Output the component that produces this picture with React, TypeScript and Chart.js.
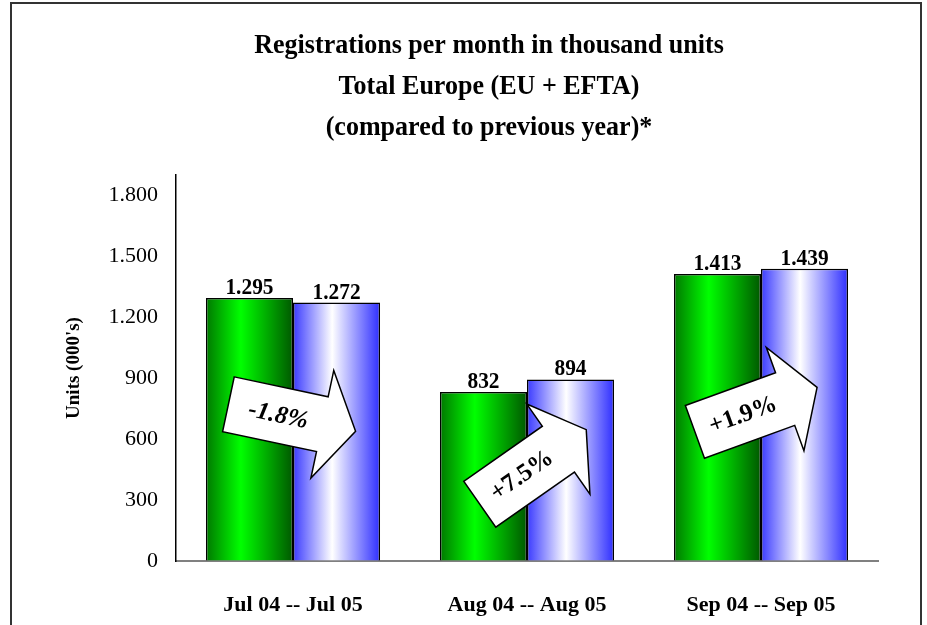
import React, { useEffect, useRef } from "react";
import { Chart, registerables } from "chart.js";

Chart.register(...registerables);

const categories = ["Jul 04 -- Jul 05", "Aug 04 -- Aug 05", "Sep 04 -- Sep 05"];
const prevYear = [1295, 832, 1413];
const currYear = [1272, 894, 1439];
const changeLabels = ["-1.8%", "+7.5%", "+1.9%"];
const yTicks = [0, 300, 600, 900, 1200, 1500, 1800];
const titleLines = [
  "Registrations per month in thousand units",
  "Total Europe (EU + EFTA)",
  "(compared to previous year)*",
];
const yTitle = "Units (000's)";

const SERIF = "'Liberation Serif', 'Times New Roman', serif";

function fmt(v: number): string {
  const s = Math.round(v).toString();
  return s.replace(/\B(?=(\d{3})+(?!\d))/g, ".");
}

const framePlugin = {
  id: "frame",
  beforeDraw(chart: any) {
    const { ctx, width, height } = chart;
    ctx.save();
    ctx.fillStyle = "#ffffff";
    ctx.fillRect(0, 0, width, height);
    ctx.strokeStyle = "#333333";
    ctx.lineWidth = 2;
    ctx.strokeRect(11, 3, 910, height + 20);
    ctx.restore();
  },
};

const titlePlugin = {
  id: "condensedTitle",
  afterDraw(chart: any, _a: any, opts: any) {
    const { ctx } = chart;
    ctx.save();
    ctx.fillStyle = "#000";
    ctx.font = `bold ${opts.size}px ${SERIF}`;
    ctx.textAlign = "center";
    ctx.textBaseline = "middle";
    const sx = opts.scaleX;
    ctx.scale(sx, 1);
    opts.lines.forEach((line: string, i: number) => {
      ctx.fillText(line, opts.cx / sx, opts.top + i * opts.lineHeight);
    });
    ctx.restore();
  },
};

const gradientPlugin = {
  id: "barGradients",
  beforeDatasetsDraw(chart: any) {
    const { ctx } = chart;
    const stopsByDs = [
      [
        [0, "#007800"],
        [0.4, "#00ff00"],
        [1, "#005800"],
      ],
      [
        [0, "#3a3aff"],
        [0.45, "#ffffff"],
        [1, "#2e2eff"],
      ],
    ];
    chart.data.datasets.forEach((_ds: any, di: number) => {
      const meta = chart.getDatasetMeta(di);
      meta.data.forEach((el: any) => {
        const left = el.x - el.width / 2;
        const right = el.x + el.width / 2;
        const g = ctx.createLinearGradient(left, 0, right, 0);
        (stopsByDs[di] as any[]).forEach((s) => g.addColorStop(s[0], s[1]));
        el.options = Object.assign({}, el.options, { backgroundColor: g });
      });
    });
  },
};

const valueLabelPlugin = {
  id: "valueLabels",
  afterDatasetsDraw(chart: any) {
    const { ctx } = chart;
    ctx.save();
    ctx.font = `bold 23px ${SERIF}`;
    ctx.fillStyle = "#000";
    ctx.textAlign = "center";
    ctx.textBaseline = "alphabetic";
    chart.data.datasets.forEach((ds: any, di: number) => {
      const meta = chart.getDatasetMeta(di);
      meta.data.forEach((el: any, i: number) => {
        ctx.save();
        ctx.translate(el.x, el.y - 4);
        ctx.scale(0.93, 1);
        ctx.fillText(fmt(ds.data[i]), 0, 0);
        ctx.restore();
      });
    });
    ctx.restore();
  },
};

const arrowPlugin = {
  id: "changeArrows",
  afterDatasetsDraw(chart: any, _args: any, opts: any) {
    const { ctx } = chart;
    const xs = chart.scales.x;
    const ys = chart.scales.y;
    const L = 130;
    const sh = 28;
    const hh = 55;
    const hl = 34;
    const hx = L / 2 - hl;
    opts.labels.forEach((label: string, i: number) => {
      const cx = xs.getPixelForValue(i) + opts.dx[i];
      const cy = ys.getPixelForValue(opts.level[i]);
      const ang = (opts.angle[i] * Math.PI) / 180;
      ctx.save();
      ctx.translate(cx, cy);
      ctx.rotate(ang);
      ctx.beginPath();
      ctx.moveTo(-L / 2, -sh);
      ctx.lineTo(hx, -sh);
      ctx.lineTo(hx, -hh);
      ctx.lineTo(L / 2, 0);
      ctx.lineTo(hx, hh);
      ctx.lineTo(hx, sh);
      ctx.lineTo(-L / 2, sh);
      ctx.closePath();
      ctx.fillStyle = "#ffffff";
      ctx.fill();
      ctx.lineWidth = 1.5;
      ctx.strokeStyle = "#000";
      ctx.stroke();
      ctx.fillStyle = "#000";
      ctx.font = `${opts.italic[i] ? "italic " : ""}bold 25px ${SERIF}`;
      ctx.textAlign = "center";
      ctx.textBaseline = "middle";
      ctx.fillText(label, -14, 1);
      ctx.restore();
    });
  },
};

export default function App() {
  const ref = useRef<HTMLCanvasElement | null>(null);
  useEffect(() => {
    if (!ref.current) return;
    const chart = new Chart(ref.current, {
      type: "bar",
      data: {
        labels: categories,
        datasets: [
          {
            label: "Previous year",
            data: prevYear,
            backgroundColor: "#00c000",
            borderColor: "#000",
            borderWidth: 1.5,
            barPercentage: 1,
            categoryPercentage: 0.744,
          },
          {
            label: "Current year",
            data: currYear,
            backgroundColor: "#8080ff",
            borderColor: "#000",
            borderWidth: 1.5,
            barPercentage: 1,
            categoryPercentage: 0.744,
          },
        ],
      },
      options: {
        responsive: false,
        animation: false,
        devicePixelRatio: 1,
        layout: { padding: { left: 0, right: 49, top: 175, bottom: 0 } },
        plugins: {
          legend: { display: false },
          tooltip: { enabled: false },
          title: { display: false },
          condensedTitle: {
            lines: titleLines,
            size: 28,
            scaleX: 0.93,
            cx: 489,
            top: 46,
            lineHeight: 41,
          },
          changeArrows: {
            labels: changeLabels,
            level: [705, 463, 745],
            dx: [-1, 6, -5],
            angle: [12, -35, -20],
            italic: [true, false, false],
          },
        } as any,
        scales: {
          x: {
            grid: { display: true, color: "rgba(0,0,0,0)", drawTicks: false },
            border: { display: true, color: "#808080", width: 2 },
            ticks: {
              color: "#000",
              font: { family: SERIF, size: 22, weight: "bold" },
              padding: 31,
              maxRotation: 0,
              autoSkip: false,
            },
            afterFit: (s: any) => {
              s.height = 64;
            },
          },
          y: {
            min: 0,
            max: 1900,
            grid: { display: true, color: "rgba(0,0,0,0)", drawTicks: false },
            border: { display: true, color: "#000", width: 1.5 },
            afterBuildTicks: (s: any) => {
              s.ticks = yTicks.map((v) => ({ value: v }));
            },
            ticks: {
              color: "#000",
              font: { family: SERIF, size: 22 },
              padding: 18,
              callback: (v: any) => fmt(Number(v)),
            },
            title: {
              display: true,
              text: yTitle,
              color: "#000",
              font: { family: SERIF, size: 19, weight: "bold" },
              padding: { top: 63, bottom: 0 },
            },
            afterFit: (s: any) => {
              s.width = 176;
            },
          },
        },
      },
      plugins: [framePlugin, gradientPlugin, valueLabelPlugin, arrowPlugin, titlePlugin],
    });
    return () => chart.destroy();
  }, []);
  return (
    <div style={{ position: "fixed", left: 0, top: 0, width: 927, height: 625 }}>
      <canvas ref={ref} width={927} height={625} style={{ display: "block" }} />
    </div>
  );
}
